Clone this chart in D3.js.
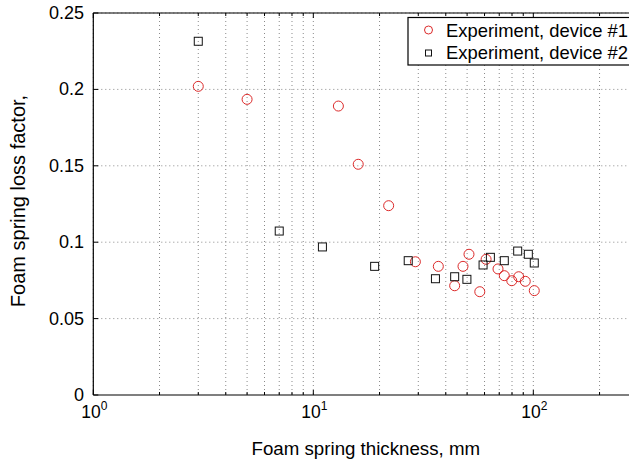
<!DOCTYPE html>
<html>
<head>
<meta charset="utf-8">
<script src="https://cdn.jsdelivr.net/npm/d3@7/dist/d3.min.js"></script>
<style>
  html, body { margin: 0; padding: 0; background: #fff; }
  svg { display: block; font-family: "Liberation Sans", Arial, Helvetica, sans-serif; }
</style>
</head>
<body>
<svg id="chart" width="629" height="462"></svg>
<script>
// ---- Data ----
const device1X = [3, 5, 13, 16, 22, 29.1, 37, 43.9, 47.9, 51, 57.1, 61, 69.1, 73.8, 79.8, 85.8, 91.9, 101];
const device1Y = [0.2020, 0.1935, 0.1891, 0.1510, 0.1239, 0.0872, 0.0842, 0.0715, 0.0842, 0.0921, 0.0676, 0.0888, 0.0825, 0.0781, 0.0748, 0.0774, 0.0744, 0.0683];
const device2X = [3, 7, 11, 19, 27, 35.9, 43.9, 49.9, 59.1, 63.8, 73.8, 84.9, 94.9, 101];
const device2Y = [0.2315, 0.1073, 0.0969, 0.0842, 0.0879, 0.0761, 0.0774, 0.0757, 0.0851, 0.0901, 0.0879, 0.0942, 0.0921, 0.0864];
const xMajorTicks = [1, 10, 100];
const xMajorExponents = ["0", "1", "2"];
const xMinorTicks = [2, 3, 4, 5, 6, 7, 8, 9, 20, 30, 40, 50, 60, 70, 80, 90, 200, 300];
const yTicks = [0, 0.05, 0.1, 0.15, 0.2, 0.25];
const yTickLabels = ["0", "0.05", "0.1", "0.15", "0.2", "0.25"];
const seriesNames = ["Experiment, device #1", "Experiment, device #2"];
const xTitle = "Foam spring thickness, mm";
const yTitle = "Foam spring loss factor,";

// ---- Layout ----
const pLeft = 93.3, pRight = 638.3, pTop = 13, pBottom = 395;
const svg = d3.select("#chart");
const x = d3.scaleLog().domain([1, 300]).range([pLeft, pRight]);
const y = d3.scaleLinear().domain([0, 0.25]).range([pBottom, pTop]);

// grid
const grid = svg.append("g");
grid.selectAll("line.xg").data(xMajorTicks.concat(xMinorTicks)).enter().append("line")
  .attr("x1", d => x(d)).attr("x2", d => x(d))
  .attr("y1", pTop).attr("y2", pBottom)
  .attr("stroke", "#8a8a8a").attr("stroke-width", 1)
  .attr("stroke-dasharray", "1,3");
grid.selectAll("line.yg").data(yTicks.slice(1)).enter().append("line")
  .attr("x1", pLeft).attr("x2", pRight)
  .attr("y1", d => y(d)).attr("y2", d => y(d))
  .attr("stroke", "#8a8a8a").attr("stroke-width", 1)
  .attr("stroke-dasharray", "1,3");

// axes frame
const ax = svg.append("g").attr("stroke", "#000").attr("stroke-width", 1.2);
ax.append("line").attr("x1", pLeft).attr("x2", pRight).attr("y1", pBottom).attr("y2", pBottom);
ax.append("line").attr("x1", pLeft).attr("x2", pRight).attr("y1", pTop).attr("y2", pTop);
ax.append("line").attr("x1", pLeft).attr("x2", pLeft).attr("y1", pTop).attr("y2", pBottom);

// ticks (inward)
const tk = svg.append("g").attr("stroke", "#000").attr("stroke-width", 1);
xMajorTicks.concat(xMinorTicks).forEach(d => {
  const len = xMajorTicks.includes(d) ? 5 : 3;
  tk.append("line").attr("x1", x(d)).attr("x2", x(d)).attr("y1", pBottom).attr("y2", pBottom - len);
  tk.append("line").attr("x1", x(d)).attr("x2", x(d)).attr("y1", pTop).attr("y2", pTop + len);
});
yTicks.forEach(d => {
  tk.append("line").attr("x1", pLeft).attr("x2", pLeft + 5).attr("y1", y(d)).attr("y2", y(d));
});

// x tick labels
xMajorTicks.forEach((d, i) => {
  const t = svg.append("text").attr("x", x(d) + 1).attr("y", 417.5)
    .attr("text-anchor", "middle").attr("font-size", 17.5).attr("fill", "#000");
  t.append("tspan").text("10");
  t.append("tspan").attr("dy", -7.5).attr("font-size", 12).text(xMajorExponents[i]);
});

// y tick labels
yTicks.forEach((d, i) => {
  svg.append("text").attr("x", 84).attr("y", y(d) + 6)
    .attr("text-anchor", "end").attr("font-size", 18).attr("fill", "#000")
    .text(yTickLabels[i]);
});

// axis titles
svg.append("text").attr("x", (pLeft + pRight) / 2).attr("y", 455)
  .attr("text-anchor", "middle").attr("font-size", 18.7).attr("fill", "#000").text(xTitle);
svg.append("text").attr("transform", "translate(25,201) rotate(-90)")
  .attr("text-anchor", "middle").attr("font-size", 20).attr("fill", "#000").text(yTitle);

// data
const red = "#dc2a2a";
svg.append("g").selectAll("circle").data(device1X.map((v, i) => [v, device1Y[i]])).enter()
  .append("circle").attr("cx", d => x(d[0])).attr("cy", d => y(d[1])).attr("r", 5)
  .attr("fill", "none").attr("stroke", red).attr("stroke-width", 1);
svg.append("g").selectAll("rect").data(device2X.map((v, i) => [v, device2Y[i]])).enter()
  .append("rect").attr("x", d => x(d[0]) - 4).attr("y", d => y(d[1]) - 4)
  .attr("width", 8).attr("height", 8)
  .attr("fill", "none").attr("stroke", "#111").attr("stroke-width", 1);

// legend
const lg = svg.append("g");
lg.append("rect").attr("x", 408).attr("y", 17.5).attr("width", 225).attr("height", 47.5)
  .attr("fill", "#fff").attr("stroke", "#000").attr("stroke-width", 1.2);
lg.append("circle").attr("cx", 428.5).attr("cy", 30).attr("r", 4)
  .attr("fill", "none").attr("stroke", red).attr("stroke-width", 1);
lg.append("rect").attr("x", 425.5).attr("y", 50).attr("width", 6).attr("height", 6)
  .attr("fill", "none").attr("stroke", "#111").attr("stroke-width", 1);
seriesNames.forEach((s, i) => {
  lg.append("text").attr("x", 446).attr("y", 36.5 + i * 22).attr("font-size", 18.4)
    .attr("fill", "#000").text(s);
});
</script>
</body>
</html>
